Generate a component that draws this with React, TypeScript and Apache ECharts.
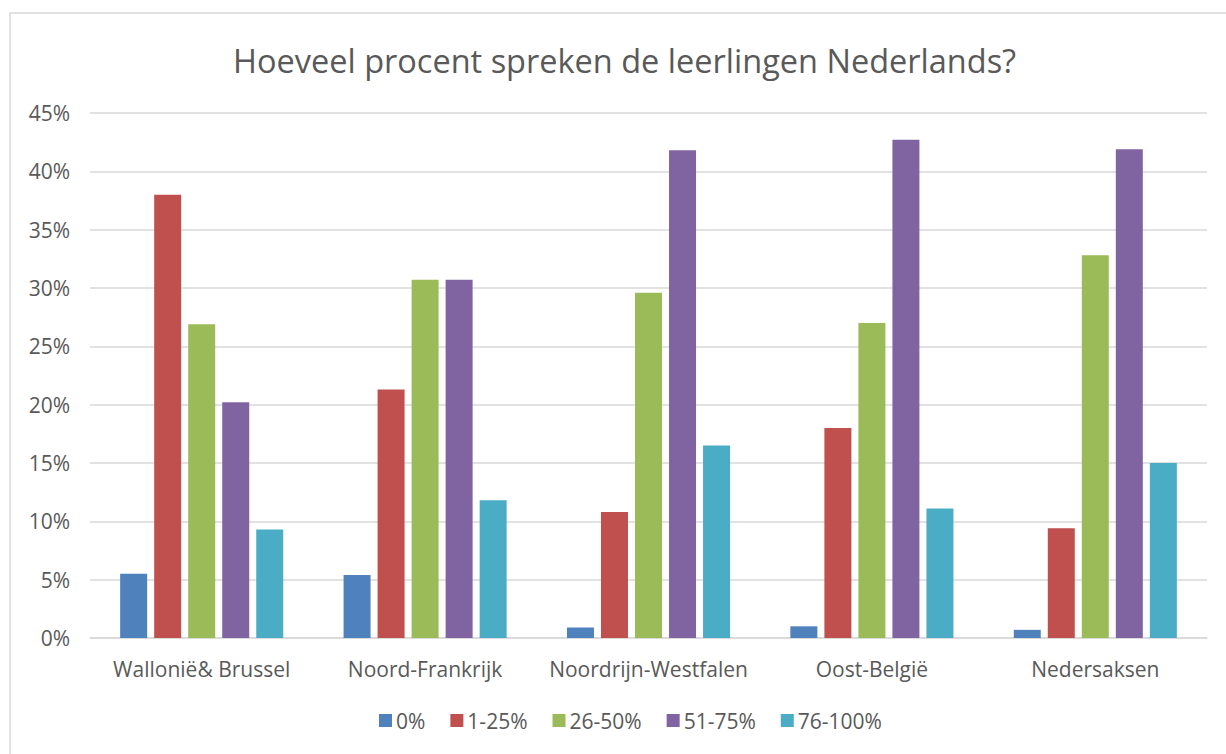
import React, { useEffect, useRef } from "react";
import * as echarts from "echarts";

const categories = ["Wallonië& Brussel", "Noord-Frankrijk", "Noordrijn-Westfalen", "Oost-België", "Nedersaksen"];
const seriesNames = ["0%", "1-25%", "26-50%", "51-75%", "76-100%"];
const v0 = [5.5, 5.4, 0.9, 1.0, 0.7];
const v1_25 = [38.0, 21.3, 10.8, 18.0, 9.4];
const v26_50 = [26.9, 30.7, 29.6, 27.0, 32.8];
const v51_75 = [20.2, 30.7, 41.8, 42.7, 41.9];
const v76_100 = [9.3, 11.8, 16.5, 11.1, 15.0];
const seriesValues = [v0, v1_25, v26_50, v51_75, v76_100];
const colors = ["#4F81BD", "#C0504D", "#9BBB59", "#8064A2", "#4BACC6"];
const yTicks = [0, 5, 10, 15, 20, 25, 30, 35, 40, 45];

const FONT = "'Open Sans', sans-serif";

export default function App() {
  const ref = useRef<HTMLDivElement>(null);
  useEffect(() => {
    if (!ref.current) return;
    const chart = echarts.init(ref.current, null, { renderer: "svg" });
    chart.setOption({
      animation: false,
      backgroundColor: "#ffffff",
      textStyle: { fontFamily: FONT },
      graphic: [
        {
          type: "rect",
          shape: { x: 10, y: 13, width: 1240, height: 780 },
          style: { fill: "none", stroke: "#d9d9d9", lineWidth: 1.5 },
          silent: true,
        },
      ],
      title: {
        text: "Hoeveel procent spreken de leerlingen Nederlands?",
        left: 228,
        top: 39,
        textStyle: { fontFamily: FONT, fontSize: 32.5, fontWeight: "normal", color: "#595959" },
      },
      legend: {
        data: seriesNames,
        bottom: 18,
        left: 374,
        icon: "rect",
        itemWidth: 13,
        itemHeight: 13,
        itemGap: 25,
        textStyle: { fontFamily: FONT, fontSize: 21, color: "#595959", padding: [0, 0, 0, -1] },
      },
      grid: { left: 90, right: 19, top: 113, bottom: 116, containLabel: false },
      xAxis: {
        type: "category",
        data: categories,
        axisLine: { lineStyle: { color: "#d9d9d9", width: 1.5 } },
        axisTick: { show: false },
        axisLabel: { fontFamily: FONT, fontSize: 21, color: "#595959", margin: 20, interval: 0 },
      },
      yAxis: {
        type: "value",
        min: 0,
        max: 45,
        interval: 5,
        axisLine: { show: false },
        axisTick: { show: false },
        splitLine: { lineStyle: { color: "#d9d9d9", width: 1.5 } },
        axisLabel: {
          fontFamily: FONT,
          fontSize: 21,
          color: "#595959",
          margin: 20,
          formatter: (v: number) => (yTicks.includes(v) ? v + "%" : ""),
        },
      },
      series: seriesNames.map((name, i) => ({
        name,
        type: "bar",
        data: seriesValues[i],
        barWidth: 27,
        barGap: "26%",
        itemStyle: { color: colors[i] },
      })),
    });
    return () => chart.dispose();
  }, []);
  return <div ref={ref} style={{ position: "absolute", left: 0, top: 0, width: 1226, height: 754 }} />;
}
